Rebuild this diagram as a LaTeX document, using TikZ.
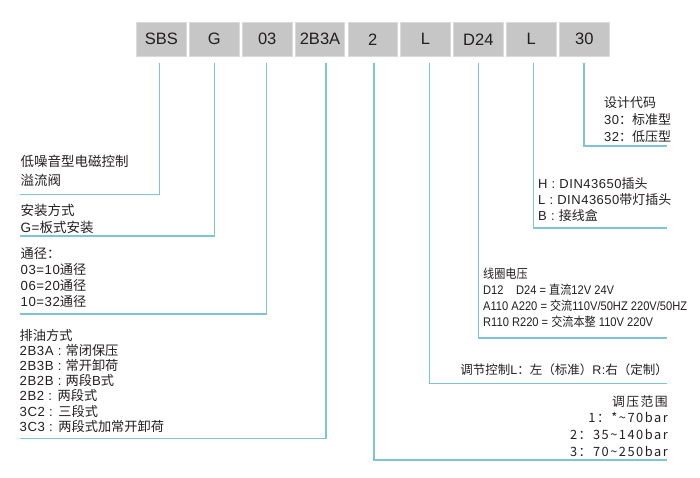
\documentclass[tikz,border=0pt]{standalone}
\usepackage{fontspec}
\setmainfont[LetterSpace=4]{Liberation Sans}
\newfontfamily\zhf{Noto Sans CJK SC}
\newfontfamily\boxfont{Liberation Sans}
\newfontfamily\narrowfont[FakeStretch=0.89]{Liberation Sans}
\newfontfamily\narrowzh[FakeStretch=0.89]{Noto Sans CJK SC}
\newfontfamily\spacedfont[LetterSpace=12]{Noto Sans CJK SC}
\newcommand\zh[1]{{\zhf #1}}
\newcommand\nzh[1]{{\narrowzh #1}}
\definecolor{lineblue}{HTML}{7FC4D6}
\definecolor{boxgray}{HTML}{C6C6C6}
\definecolor{boxedge}{HTML}{DADADA}
\definecolor{txtc}{HTML}{231F20}
\tikzset{
  codebox/.style={draw=boxedge, line width=0.8pt, fill=boxgray, minimum width=49.5pt, minimum height=33.3pt, inner sep=0pt, font=\boxfont\fontsize{16.5}{18}\selectfont, text=txtc},
  ln/.style={draw=lineblue, line width=1.2pt},
  txt/.style={inner sep=0pt, text=txtc, align=left},
}
\begin{document}
\begin{tikzpicture}[x=1pt,y=-1pt]
\useasboundingbox (0,0) rectangle (700,478);
% code boxes
\node[codebox] (b1) at (161.3,39.3) {SBS};
\node[codebox] (b2) at (214.3,39.3) {G};
\node[codebox] (b3) at (267.2,39.3) {03};
\node[codebox] (b4) at (320.0,39.3) {2B3A};
\node[codebox] (b5) at (372.7,39.3) {2};
\node[codebox] (b6) at (425.4,39.3) {L};
\node[codebox] (b7) at (478.3,39.3) {D24};
\node[codebox] (b8) at (531.3,39.3) {L};
\node[codebox] (b9) at (584.3,39.3) {30};
% line tops
\coordinate (t1) at (159.3,63);
\coordinate (t2) at (214.6,63);
\coordinate (t3) at (266.7,63);
\coordinate (t4) at (326.0,63);
\coordinate (t5) at (374.0,63);
\coordinate (t6) at (429.3,63);
\coordinate (t7) at (478.7,63);
\coordinate (t8) at (533.3,63);
\coordinate (t9) at (584.0,63);
% line ends
\coordinate (e1) at (20,194.5);
\coordinate (e2) at (20,236);
\coordinate (e3) at (20,314);
\coordinate (e4) at (20,438.3);
\coordinate (e5) at (667,460);
\coordinate (e6) at (667,383.3);
\coordinate (e7) at (667,338);
\coordinate (e8) at (667,228);
\coordinate (e9) at (667,146);
\foreach \i in {1,...,9} {\draw[ln] (t\i) |- (e\i);}
% texts (base anchor = baseline of last line)
\node[txt, anchor=base west, font=\zhf\fontsize{13.5}{18.5}\selectfont] (d1) at (20.5,185.5) {低噪音型电磁控制\\溢流阀};
\node[txt, anchor=base west, font=\fontsize{13.5}{17}\selectfont] (d2) at (20.5,232) {\zh{安装方式}\\G=\zh{板式安装}};
\node[txt, anchor=base west, font=\fontsize{13.2}{16}\selectfont] (d3) at (20.5,306) {\zh{通径：}\\03=10\zh{通径}\\06=20\zh{通径}\\10=32\zh{通径}};
\node[txt, anchor=base west, font=\fontsize{13.2}{15.2}\selectfont] (d4) at (19.5,431.2) {\zh{排油方式}\\2B3A : \zh{常闭保压}\\2B3B : \zh{常开卸荷}\\2B2B : \zh{两段}B\zh{式}\\2B2 : \zh{两段式}\\3C2 : \zh{三段式}\\3C3 : \zh{两段式加常开卸荷}};
\node[txt, anchor=base west, font=\fontsize{13}{17}\selectfont] (d9) at (604,142) {\zh{设计代码}\\30\zh{：标准型}\\32\zh{：低压型}};
\node[txt, anchor=base west, font=\fontsize{13}{16}\selectfont] (d8) at (538,220) {H : DIN43650\zh{插头}\\L : DIN43650\zh{带灯插头}\\B : \zh{接线盒}};
\node[txt, anchor=base west, font=\narrowfont\fontsize{12.5}{16.3}\selectfont] (d7) at (483,326.9) {\nzh{线圈电压}\\D12\quad D24 = \nzh{直流}12V 24V\\A110 A220 = \nzh{交流}110V/50HZ 220V/50HZ\\R110 R220 = \nzh{交流本整} 110V 220V};
\node[txt, anchor=base east, font=\fontsize{12.5}{16}\selectfont] (d6) at (668,374) {\zh{调节控制}L\zh{：左（标准）}R:\zh{右（定制）}};
\node[txt, anchor=base east, align=right, font=\spacedfont\fontsize{12.8}{16.7}\selectfont] (d5) at (668,456.1) {调压范围\\1：*\textasciitilde70bar\\2：35\textasciitilde140bar\\3：70\textasciitilde250bar};
\end{tikzpicture}
\end{document}
